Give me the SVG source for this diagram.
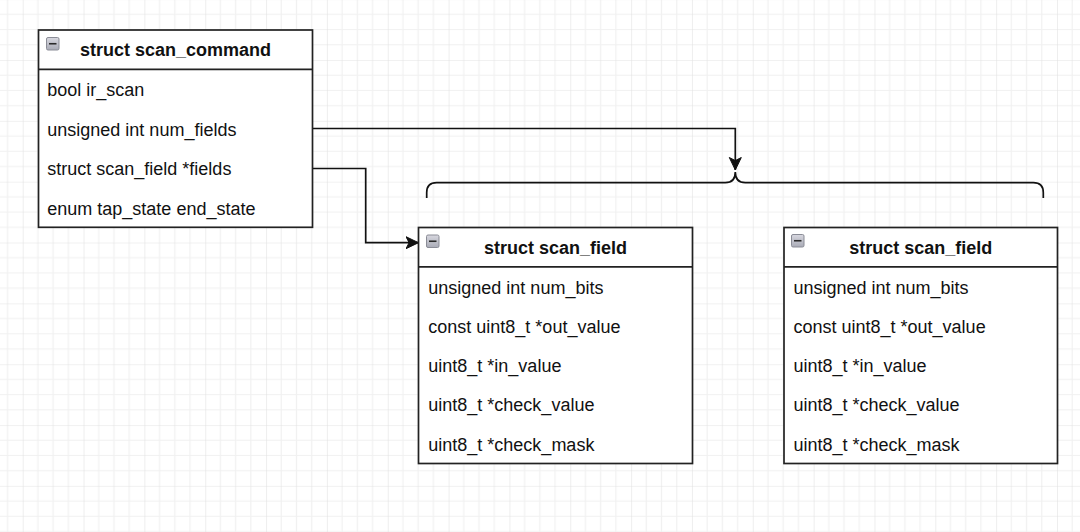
<svg xmlns="http://www.w3.org/2000/svg" width="1080" height="532" viewBox="0 0 1080 532">
<defs>
<pattern id="grid" patternUnits="userSpaceOnUse" x="22.7" y="60" width="60.84" height="60.84">
<rect width="60.84" height="60.84" fill="#ffffff"/>
<g stroke="#f1f1f1" stroke-width="1.2">
<line x1="15.21" y1="0" x2="15.21" y2="60.84"/>
<line x1="30.42" y1="0" x2="30.42" y2="60.84"/>
<line x1="45.63" y1="0" x2="45.63" y2="60.84"/>
<line x1="0" y1="15.21" x2="60.84" y2="15.21"/>
<line x1="0" y1="30.42" x2="60.84" y2="30.42"/>
<line x1="0" y1="45.63" x2="60.84" y2="45.63"/>
</g>
<g stroke="#e3e3e3" stroke-width="1.2">
<line x1="0" y1="0" x2="0" y2="60.84"/>
<line x1="0" y1="0" x2="60.84" y2="0"/>
</g>
</pattern>
<marker id="arrow" markerUnits="userSpaceOnUse" markerWidth="14" markerHeight="14" viewBox="-13 -7 14 14" refX="0" refY="0" orient="auto">
<path d="M0,0 L-12.5,-6 L-9.4,0 L-12.5,6 Z" fill="#111" stroke="#111" stroke-width="1"/>
</marker>
<linearGradient id="iconfill" x1="0" y1="0" x2="0" y2="1">
<stop offset="0" stop-color="#d8d8e0"/>
<stop offset="1" stop-color="#a9abb6"/>
</linearGradient>
</defs>
<style>
.box{fill:#ffffff;stroke:#222;stroke-width:1.7}
.sep{stroke:#222;stroke-width:1.7}
.hdr{font-family:"Liberation Sans",Arial,sans-serif;font-size:18px;font-weight:bold;fill:#111;text-anchor:middle}
.row{font-family:"Liberation Sans",Arial,sans-serif;font-size:18px;fill:#111}
.icon{fill:url(#iconfill);stroke:#8a8c96;stroke-width:1}
.minus{stroke:#2a2a2a;stroke-width:1.6}
.edge{fill:none;stroke:#111;stroke-width:1.7}
</style>
<rect width="1080" height="532" fill="url(#grid)"/>

<g id="connectors">
<path class="edge" d="M312.5,128.5 L735.3,128.5 L735.3,170" marker-end="url(#arrow)"/>
<path class="edge" d="M312.5,168.5 L365.7,168.5 L365.7,242.7 L418.5,242.7" marker-end="url(#arrow)"/>
</g>

<g id="brace">
<path class="edge" d="M426.7,198 L426.7,192.7 Q426.7,182.7 436.7,182.7 L725.3,182.7 Q735.3,182.7 735.3,172 Q735.3,182.7 745.3,182.7 L1033.3,182.7 Q1043.3,182.7 1043.3,192.7 L1043.3,198"/>
</g>

<g id="scan_command">
<rect class="box" x="38.5" y="30" width="274" height="197.3"/>
<line class="sep" x1="38.5" y1="69.4" x2="312.5" y2="69.4"/>
<rect class="icon" x="46.5" y="37.5" width="12.5" height="12.5" rx="1.5"/>
<line class="minus" x1="49" y1="43.75" x2="56.5" y2="43.75"/>
<text class="hdr" x="175.5" y="56">struct scan_command</text>
<text class="row" x="47.3" y="96">bool ir_scan</text>
<text class="row" x="47.3" y="135.5">unsigned int num_fields</text>
<text class="row" x="47.3" y="175">struct scan_field *fields</text>
<text class="row" x="47.3" y="214.5">enum tap_state end_state</text>
</g>

<g id="scan_field_1">
<rect class="box" x="418.5" y="227.5" width="274" height="236"/>
<line class="sep" x1="418.5" y1="266.8" x2="692.5" y2="266.8"/>
<rect class="icon" x="426.5" y="235" width="12.5" height="12.5" rx="1.5"/>
<line class="minus" x1="429" y1="241.25" x2="436.5" y2="241.25"/>
<text class="hdr" x="555.5" y="253.5">struct scan_field</text>
<text class="row" x="428.3" y="293.5">unsigned int num_bits</text>
<text class="row" x="428.3" y="332.8">const uint8_t *out_value</text>
<text class="row" x="428.3" y="372.1">uint8_t *in_value</text>
<text class="row" x="428.3" y="411.4">uint8_t *check_value</text>
<text class="row" x="428.3" y="450.7">uint8_t *check_mask</text>
</g>

<g id="scan_field_2">
<rect class="box" x="784" y="227.5" width="273.5" height="236"/>
<line class="sep" x1="784" y1="266.8" x2="1057.5" y2="266.8"/>
<rect class="icon" x="791.5" y="234.5" width="12.5" height="12.5" rx="1.5"/>
<line class="minus" x1="794" y1="240.75" x2="801.5" y2="240.75"/>
<text class="hdr" x="920.8" y="253.5">struct scan_field</text>
<text class="row" x="793.5" y="293.5">unsigned int num_bits</text>
<text class="row" x="793.5" y="332.8">const uint8_t *out_value</text>
<text class="row" x="793.5" y="372.1">uint8_t *in_value</text>
<text class="row" x="793.5" y="411.4">uint8_t *check_value</text>
<text class="row" x="793.5" y="450.7">uint8_t *check_mask</text>
</g>
</svg>
